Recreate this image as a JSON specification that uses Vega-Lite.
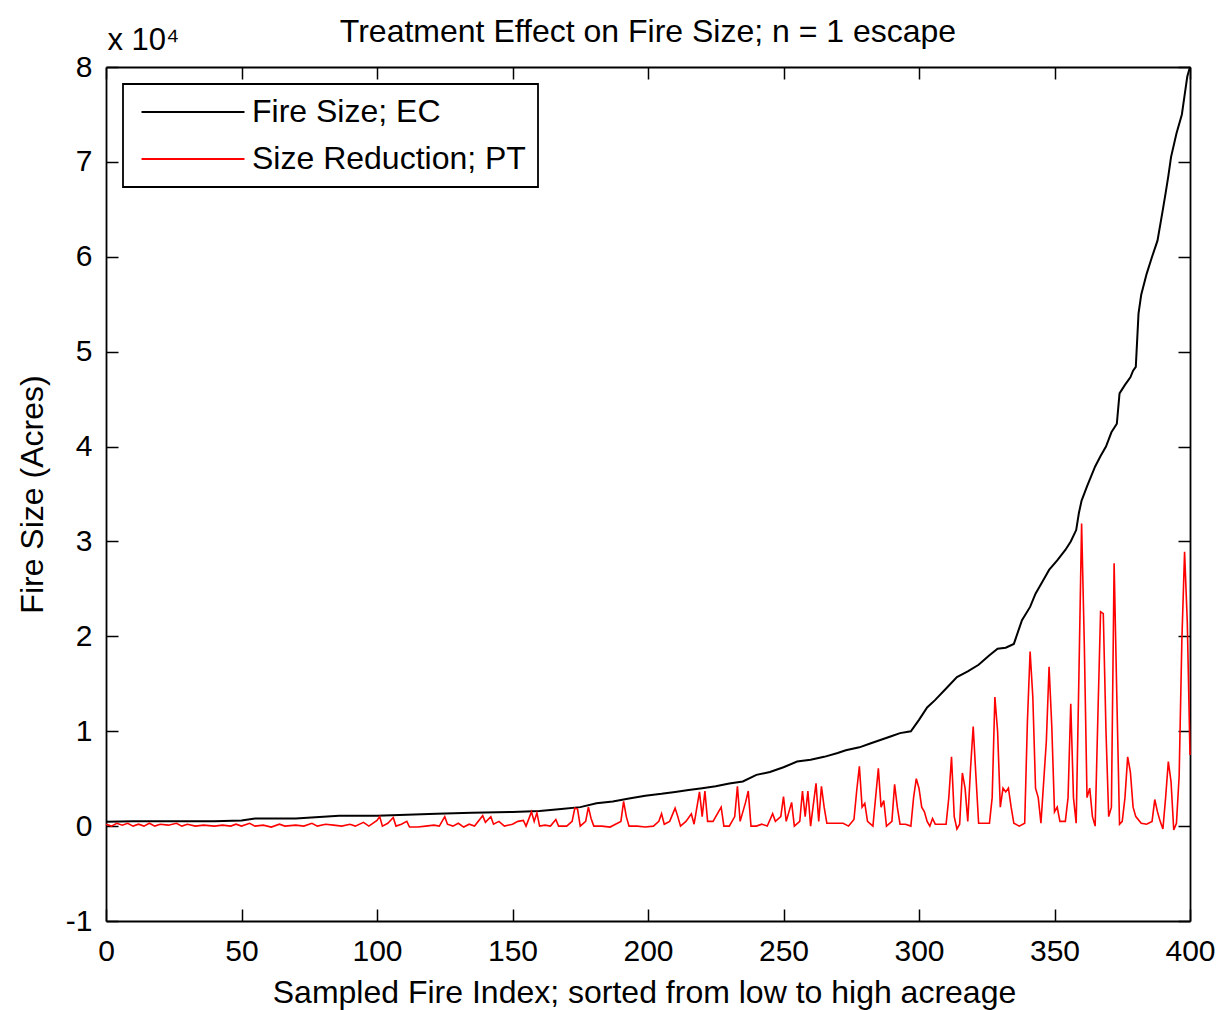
{
  "$schema": "https://vega.github.io/schema/vega-lite/v6.json",
  "width": 1084,
  "height": 854,
  "autosize": {"type": "none"},
  "padding": {"left": 106, "top": 67, "right": 31, "bottom": 89},
  "background": "white",
  "title": {
    "text": "Treatment Effect on Fire Size; n = 1 escape",
    "anchor": "middle",
    "baseline": "alphabetic",
    "offset": -50,
    "font": "Liberation Sans",
    "fontSize": 32,
    "fontWeight": "normal",
    "color": "black"
  },
  "datasets": {
    "ec": [
      {"i":0,"a":450},{"i":10,"a":500},{"i":20,"a":500},{"i":30,"a":500},{"i":40,"a":520},{"i":50,"a":600},{"i":55,"a":800},{"i":70,"a":800},{"i":86,"a":1100},{"i":100,"a":1100},
      {"i":122,"a":1300},{"i":135,"a":1400},{"i":150,"a":1500},{"i":160,"a":1600},{"i":168,"a":1800},{"i":175,"a":2000},{"i":181,"a":2400},{"i":187,"a":2600},{"i":193,"a":2900},{"i":199,"a":3200},
      {"i":205,"a":3400},{"i":210,"a":3600},{"i":215,"a":3800},{"i":220,"a":4000},{"i":225,"a":4200},{"i":230,"a":4500},{"i":235,"a":4700},{"i":240,"a":5400},{"i":245,"a":5700},{"i":250,"a":6200},
      {"i":255,"a":6800},{"i":260,"a":7000},{"i":265,"a":7300},{"i":270,"a":7700},{"i":273,"a":8000},{"i":278,"a":8300},{"i":282,"a":8700},{"i":286,"a":9100},{"i":290,"a":9500},{"i":293,"a":9800},
      {"i":297,"a":10000},{"i":300,"a":11200},{"i":303,"a":12500},{"i":306,"a":13300},{"i":310,"a":14500},{"i":314,"a":15700},{"i":318,"a":16300},{"i":322,"a":17000},{"i":326,"a":18000},{"i":329,"a":18700},
      {"i":332,"a":18800},{"i":335,"a":19200},{"i":338,"a":21700},{"i":341,"a":23100},{"i":343,"a":24500},{"i":346,"a":26000},{"i":348,"a":27000},{"i":351,"a":28000},{"i":354,"a":29100},{"i":356,"a":30000},
      {"i":358,"a":31200},{"i":359,"a":33000},{"i":360,"a":34300},{"i":362,"a":35800},{"i":365,"a":37900},{"i":367,"a":39000},{"i":369,"a":40000},{"i":371,"a":41500},{"i":373,"a":42400},{"i":374,"a":45600},
      {"i":376,"a":46500},{"i":378,"a":47300},{"i":379,"a":48000},{"i":380,"a":48400},{"i":381,"a":54000},{"i":382,"a":56000},{"i":384,"a":58200},{"i":386,"a":60000},{"i":388,"a":61700},{"i":390,"a":65000},
      {"i":391,"a":66700},{"i":392,"a":68500},{"i":393,"a":70500},{"i":395,"a":73000},{"i":397,"a":75000},{"i":398,"a":77000},{"i":399,"a":79000},{"i":400,"a":80000}
    ],
    "pt": [
      {"i":0,"a":200},{"i":2,"a":0},{"i":4,"a":300},{"i":6,"a":100},{"i":8,"a":300},{"i":10,"a":0},{"i":12,"a":200},{"i":14,"a":0},{"i":16,"a":300},{"i":18,"a":0},
      {"i":20,"a":200},{"i":23,"a":100},{"i":26,"a":300},{"i":28,"a":0},{"i":30,"a":200},{"i":33,"a":0},{"i":36,"a":100},{"i":40,"a":0},{"i":43,"a":100},{"i":46,"a":0},
      {"i":48,"a":200},{"i":50,"a":0},{"i":53,"a":300},{"i":55,"a":0},{"i":58,"a":100},{"i":61,"a":-100},{"i":64,"a":200},{"i":66,"a":0},{"i":70,"a":100},{"i":73,"a":0},
      {"i":76,"a":300},{"i":78,"a":0},{"i":81,"a":200},{"i":84,"a":100},{"i":87,"a":0},{"i":90,"a":200},{"i":92,"a":0},{"i":95,"a":400},{"i":97,"a":0},{"i":100,"a":600},
      {"i":101,"a":1000},{"i":102,"a":0},{"i":104,"a":300},{"i":106,"a":900},{"i":107,"a":0},{"i":109,"a":200},{"i":111,"a":500},{"i":112,"a":-100},{"i":115,"a":-100},{"i":118,"a":0},
      {"i":121,"a":100},{"i":123,"a":0},{"i":125,"a":1000},{"i":126,"a":200},{"i":128,"a":0},{"i":130,"a":300},{"i":132,"a":-100},{"i":134,"a":200},{"i":136,"a":0},{"i":139,"a":1100},
      {"i":140,"a":400},{"i":142,"a":1000},{"i":143,"a":200},{"i":145,"a":500},{"i":147,"a":0},{"i":150,"a":200},{"i":152,"a":500},{"i":154,"a":600},{"i":155,"a":0},{"i":157,"a":1500},
      {"i":158,"a":500},{"i":159,"a":1400},{"i":160,"a":0},{"i":162,"a":100},{"i":164,"a":0},{"i":166,"a":700},{"i":167,"a":0},{"i":170,"a":0},{"i":172,"a":500},{"i":173,"a":1900},
      {"i":174,"a":1800},{"i":175,"a":0},{"i":177,"a":500},{"i":178,"a":2000},{"i":179,"a":800},{"i":180,"a":0},{"i":183,"a":0},{"i":186,"a":-100},{"i":188,"a":200},{"i":190,"a":500},
      {"i":191,"a":2600},{"i":192,"a":1000},{"i":193,"a":0},{"i":196,"a":0},{"i":199,"a":-100},{"i":202,"a":0},{"i":204,"a":500},{"i":205,"a":1300},{"i":206,"a":200},{"i":208,"a":500},
      {"i":210,"a":1900},{"i":211,"a":1000},{"i":212,"a":0},{"i":214,"a":500},{"i":216,"a":1300},{"i":217,"a":200},{"i":219,"a":3600},{"i":220,"a":1000},{"i":221,"a":3700},{"i":222,"a":500},
      {"i":224,"a":500},{"i":227,"a":2000},{"i":228,"a":0},{"i":230,"a":0},{"i":232,"a":1000},{"i":233,"a":4200},{"i":234,"a":500},{"i":236,"a":2500},{"i":237,"a":3700},{"i":238,"a":0},
      {"i":240,"a":0},{"i":242,"a":200},{"i":244,"a":0},{"i":246,"a":1300},{"i":247,"a":500},{"i":249,"a":1000},{"i":250,"a":3100},{"i":251,"a":500},{"i":253,"a":2500},{"i":254,"a":0},
      {"i":256,"a":500},{"i":257,"a":3700},{"i":258,"a":1000},{"i":259,"a":3700},{"i":260,"a":0},{"i":262,"a":4500},{"i":263,"a":500},{"i":264,"a":4200},{"i":265,"a":2000},{"i":266,"a":300},
      {"i":268,"a":300},{"i":270,"a":300},{"i":272,"a":300},{"i":274,"a":0},{"i":276,"a":700},{"i":277,"a":3700},{"i":278,"a":6300},{"i":279,"a":2000},{"i":280,"a":2400},{"i":281,"a":500},
      {"i":283,"a":0},{"i":285,"a":6100},{"i":286,"a":2000},{"i":287,"a":2700},{"i":288,"a":0},{"i":290,"a":500},{"i":291,"a":4400},{"i":292,"a":2000},{"i":293,"a":200},{"i":295,"a":200},
      {"i":297,"a":0},{"i":298,"a":3000},{"i":299,"a":5000},{"i":300,"a":4000},{"i":301,"a":2000},{"i":302,"a":1500},{"i":303,"a":500},{"i":304,"a":0},{"i":305,"a":800},{"i":306,"a":200},
      {"i":308,"a":200},{"i":310,"a":200},{"i":311,"a":3000},{"i":312,"a":7300},{"i":313,"a":1000},{"i":314,"a":-300},{"i":315,"a":200},{"i":316,"a":5600},{"i":317,"a":4000},{"i":318,"a":500},
      {"i":319,"a":6000},{"i":320,"a":10500},{"i":321,"a":5300},{"i":322,"a":300},{"i":324,"a":300},{"i":326,"a":300},{"i":327,"a":3000},{"i":328,"a":13600},{"i":329,"a":10000},{"i":330,"a":2000},
      {"i":331,"a":4000},{"i":332,"a":3600},{"i":333,"a":4000},{"i":334,"a":2000},{"i":335,"a":300},{"i":337,"a":0},{"i":339,"a":300},{"i":340,"a":11000},{"i":341,"a":18400},{"i":342,"a":13600},
      {"i":343,"a":4000},{"i":344,"a":3000},{"i":345,"a":300},{"i":347,"a":9000},{"i":348,"a":16800},{"i":349,"a":10500},{"i":350,"a":1500},{"i":351,"a":2000},{"i":352,"a":500},{"i":354,"a":500},
      {"i":355,"a":3000},{"i":356,"a":12900},{"i":357,"a":3000},{"i":358,"a":300},{"i":359,"a":15700},{"i":360,"a":31900},{"i":361,"a":19200},{"i":362,"a":3000},{"i":363,"a":4000},{"i":364,"a":1000},
      {"i":365,"a":0},{"i":366,"a":11500},{"i":367,"a":22600},{"i":368,"a":22400},{"i":369,"a":10000},{"i":370,"a":1000},{"i":371,"a":2000},{"i":372,"a":27700},{"i":373,"a":13600},{"i":374,"a":200},
      {"i":375,"a":500},{"i":376,"a":3000},{"i":377,"a":7300},{"i":378,"a":5700},{"i":379,"a":2000},{"i":380,"a":1000},{"i":382,"a":300},{"i":384,"a":200},{"i":386,"a":500},{"i":387,"a":2800},
      {"i":388,"a":1500},{"i":389,"a":500},{"i":390,"a":-300},{"i":391,"a":3000},{"i":392,"a":6800},{"i":393,"a":4700},{"i":394,"a":-400},{"i":395,"a":300},{"i":396,"a":5300},{"i":397,"a":19600},
      {"i":398,"a":28900},{"i":399,"a":21500},{"i":400,"a":7500}
    ]
  },
  "layer": [
    {
      "data": {"name": "ec"},
      "mark": {"type": "line", "strokeWidth": 2, "interpolate": "linear"},
      "encoding": {
        "x": {"field": "i", "type": "quantitative",
              "scale": {"domain": [0, 400], "nice": false, "zero": false},
              "axis": {"orient": "bottom", "values": [0,50,100,150,200,250,300,350,400],
                       "title": "Sampled Fire Index; sorted from low to high acreage",
                       "titleX": 538, "titleY": 81, "titleAlign": "center", "titleBaseline": "alphabetic",
                       "labelPadding": 27}},
        "y": {"field": "a", "type": "quantitative",
              "scale": {"domain": [-10000, 80000], "nice": false, "zero": false},
              "axis": {"orient": "left", "values": [-10000,0,10000,20000,30000,40000,50000,60000,70000,80000],
                       "labelExpr": "datum.value / 10000",
                       "title": "Fire Size (Acres)",
                       "titleX": -64, "titleY": 427, "titleAngle": -90, "titleAlign": "center", "titleBaseline": "alphabetic",
                       "labelPadding": 26}},
        "color": {"datum": "Fire Size; EC", "type": "nominal",
                  "scale": {"domain": ["Fire Size; EC", "Size Reduction; PT"], "range": ["#000000", "#ff0000"]},
                  "legend": {"orient": "top-left", "offset": 17, "title": null}}
      }
    },
    {
      "data": {"name": "pt"},
      "mark": {"type": "line", "strokeWidth": 1.6},
      "encoding": {
        "x": {"field": "i", "type": "quantitative", "axis": null},
        "y": {"field": "a", "type": "quantitative", "axis": null},
        "color": {"datum": "Size Reduction; PT", "type": "nominal"}
      }
    },
    {
      "data": {"name": "ec"},
      "mark": {"type": "line", "strokeOpacity": 0},
      "encoding": {
        "x": {"field": "i", "type": "quantitative",
              "axis": {"orient": "top", "values": [0,50,100,150,200,250,300,350,400], "labels": false,
                       "title": "x 10⁴", "titleX": 1, "titleY": -18, "titleAlign": "left", "titleBaseline": "alphabetic",
                       "titleAngle": 0, "titleFontSize": 31}},
        "y": {"field": "a", "type": "quantitative",
              "axis": {"orient": "right", "values": [-10000,0,10000,20000,30000,40000,50000,60000,70000,80000],
                       "labels": false, "title": null}}
      }
    }
  ],
  "resolve": {"axis": {"x": "independent", "y": "independent"}},
  "config": {
    "view": {"stroke": null},
    "font": "Liberation Sans",
    "axis": {
      "grid": false,
      "labelFont": "Liberation Sans",
      "labelFontSize": 30,
      "labelColor": "black",
      "labelFlush": false,
      "labelOverlap": false,
      "titleFont": "Liberation Sans",
      "titleFontSize": 32,
      "titleFontWeight": "normal",
      "titleColor": "black",
      "tickSize": -12,
      "tickWidth": 1.5,
      "tickColor": "black",
      "domainColor": "black",
      "domainWidth": 1.8
    },
    "legend": {
      "fillColor": "white",
      "strokeColor": "black",
      "strokeWidth": 1.8,
      "padding": 12,
      "rowPadding": 15,
      "symbolType": "M-10,0H10",
      "symbolSize": 106,
      "symbolStrokeWidth": 2,
      "symbolOffset": 42,
      "labelOffset": 43,
      "labelFont": "Liberation Sans",
      "labelFontSize": 32,
      "labelColor": "black",
      "labelLimit": 500
    }
  }
}
